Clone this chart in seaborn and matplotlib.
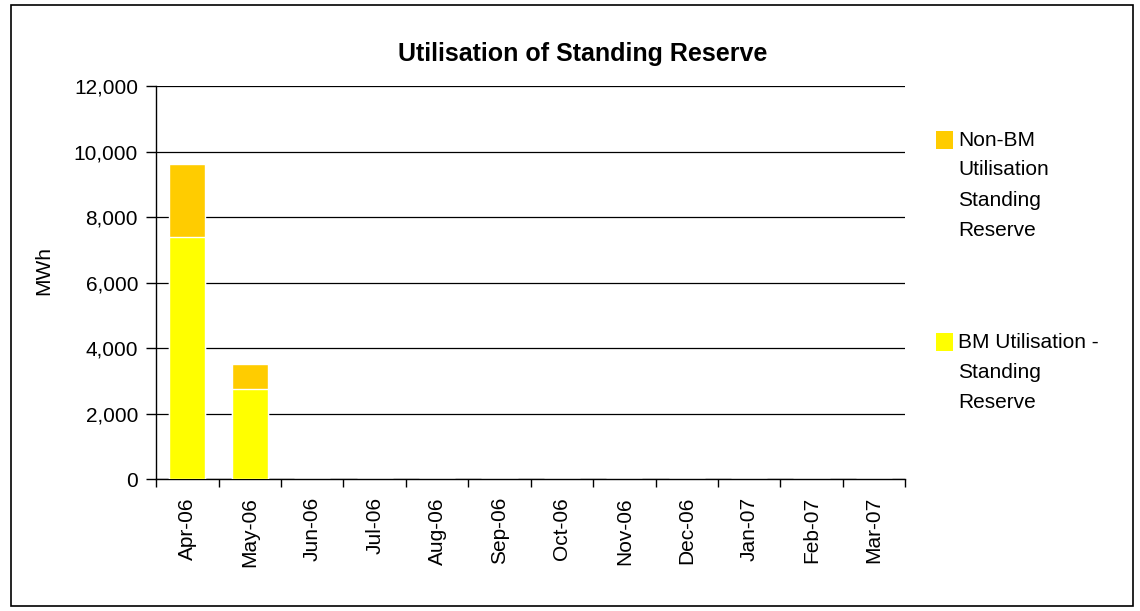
import numpy as np
import pandas as pd
import matplotlib
matplotlib.use("Agg")
import matplotlib.pyplot as plt
import matplotlib.patches as mpatches
import seaborn as sns
from matplotlib.ticker import FuncFormatter, FixedLocator

MESES = ["Apr-06", "May-06", "Jun-06", "Jul-06", "Aug-06", "Sep-06",
         "Oct-06", "Nov-06", "Dec-06", "Jan-07", "Feb-07", "Mar-07"]
BM_UTIL = [7380, 2760, 0, 0, 0, 0, 0, 0, 0, 0, 0, 0]
NON_BM_UTIL = [2250, 740, 0, 0, 0, 0, 0, 0, 0, 0, 0, 0]
Y_TICKS = [0, 2000, 4000, 6000, 8000, 10000, 12000]

COLOR_BM = "#FFFF00"
COLOR_NONBM = "#FFCC00"
FS = 15
W, H = 1140, 611

sns.set_theme(style="white")
plt.rcParams["font.family"] = ["Liberation Sans", "DejaVu Sans"]
plt.rcParams.update({"text.color": "black", "axes.labelcolor": "black",
                     "xtick.color": "black", "ytick.color": "black"})

df = pd.DataFrame({"Mes": MESES, "BM": BM_UTIL, "NonBM": NON_BM_UTIL})
df["Total"] = df["BM"] + df["NonBM"]

fig = plt.figure(figsize=(W / 100, H / 100), dpi=100)
ax = fig.add_axes([0.137, 0.216, 0.657, 0.643])

# barras apiladas: total abajo (naranja), BM encima (amarillo)
sns.barplot(data=df, x="Mes", y="Total", color=COLOR_NONBM, width=0.58,
            saturation=1, ax=ax, zorder=3)
sns.barplot(data=df, x="Mes", y="BM", color=COLOR_BM, width=0.58,
            saturation=1, ax=ax, zorder=3)

ax.set_xlim(-0.5, len(MESES) - 0.5)
ax.set_ylim(0, 12000)
ax.set_yticks(Y_TICKS)
ax.yaxis.set_major_formatter(FuncFormatter(lambda v, p: f"{int(v):,}"))
ax.grid(axis="y", color="black", linewidth=0.9, zorder=0)
ax.set_axisbelow(True)

for s in ["top", "right"]:
    ax.spines[s].set_visible(False)
for s in ["left", "bottom"]:
    ax.spines[s].set_color("black")
    ax.spines[s].set_linewidth(1.0)

ax.xaxis.set_minor_locator(FixedLocator(np.arange(-0.5, len(MESES), 1.0)))
ax.tick_params(axis="x", which="major", length=0, labelsize=FS, pad=13,
               rotation=90, colors="black")
ax.tick_params(axis="x", which="minor", length=6, width=1, color="black",
               bottom=True)
ax.tick_params(axis="y", length=7, width=1, color="black", left=True,
               labelsize=FS, pad=6, labelcolor="black")

ax.set_xlabel("")
ax.set_ylabel("MWh", fontsize=FS, color="black")
ax.yaxis.set_label_coords(-0.138, 0.53)
ax.set_title("Utilisation of Standing Reserve", fontsize=18, color="black",
             weight="bold", pad=18, x=0.57)

# leyenda a mano, estilo Excel (cuadro alineado con la primera linea)
items = [(COLOR_NONBM, ["Non-BM", "Utilisation", "Standing", "Reserve"], 140),
         (COLOR_BM, ["BM Utilisation -", "Standing", "Reserve"], 342)]
for color, lineas, y0 in items:
    fig.add_artist(mpatches.Rectangle((936 / W, 1 - (y0 + 9) / H), 17 / W, 18 / H,
                                      transform=fig.transFigure,
                                      facecolor=color, edgecolor="none"))
    for i, txt in enumerate(lineas):
        fig.text(958 / W, 1 - (y0 + i * 30) / H, txt, fontsize=FS,
                 va="center", ha="left", color="black")

# marco exterior
fig.add_artist(mpatches.Rectangle((0.0096, 0.008), 0.984, 0.983,
                                  transform=fig.transFigure, fill=False,
                                  edgecolor="black", linewidth=1.2))

fig.savefig("out.png", dpi=100)
